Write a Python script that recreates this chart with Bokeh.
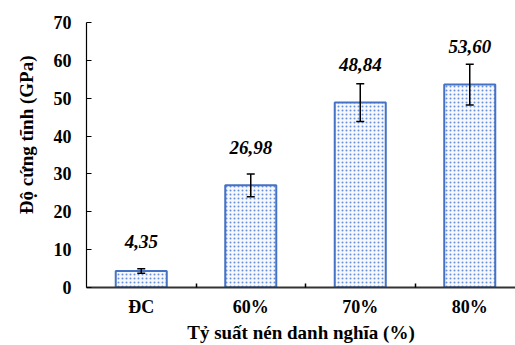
from bokeh.plotting import figure
from bokeh.models import ColumnDataSource, Whisker, TeeHead, FixedTicker, Range1d, Title
from bokeh.core.properties import value
from bokeh.embed import file_html
from bokeh.resources import INLINE

categories = ["ĐC", "60%", "70%", "80%"]
stiffness = [4.35, 26.98, 48.84, 53.60]
errors = [0.6, 3.0, 5.0, 5.4]
value_labels = ["4,35", "26,98", "48,84", "53,60"]
label_offsets = [-30, -38, -38, -38]
y_ticks = [0, 10, 20, 30, 40, 50, 60, 70]

xs = list(range(1, len(categories) + 1))
src = ColumnDataSource(dict(
    x=xs, top=stiffness,
    upper=[v + e for v, e in zip(stiffness, errors)],
    lower=[v - e for v, e in zip(stiffness, errors)],
    lab=value_labels, off=label_offsets,
))

FONT = "Liberation Serif"

p = figure(width=515, height=345, output_backend="svg", toolbar_location=None,
           x_range=Range1d(0.5, 0.5 + 429 / 109.5), y_range=Range1d(0, 70),
           min_border_left=86, min_border_right=0, min_border_top=22, min_border_bottom=58)
p.outline_line_color = None
p.xgrid.visible = False
p.ygrid.visible = False
p.background_fill_color = "white"
p.border_fill_color = "white"

p.vbar(x="x", top="top", width=0.466, source=src,
       fill_color="#f6f8fc", line_color="#4472C4", line_width=2,
       hatch_pattern="dot", hatch_color="#4f7fd6", hatch_scale=4,
       hatch_weight=1.4, hatch_alpha=0.85)

w = Whisker(base="x", upper="upper", lower="lower", source=src,
            line_color="black", line_width=1.5, level="overlay",
            upper_head=TeeHead(size=8, line_width=1.5, line_color="black"),
            lower_head=TeeHead(size=8, line_width=1.5, line_color="black"))
p.add_layout(w)

p.text(x="x", y="top", text="lab", y_offset="off", source=src,
       text_font=value(FONT), text_font_style="bold italic",
       text_font_size="19px", text_align="center", text_baseline="middle",
       text_color="black")

# x axis
p.xaxis.ticker = FixedTicker(ticks=xs, minor_ticks=[1.5, 2.5, 3.5])
p.xaxis.major_label_overrides = {i: c for i, c in zip(xs, categories)}
p.xaxis.major_tick_in = 0
p.xaxis.major_tick_out = 0
p.xaxis.minor_tick_in = 4
p.xaxis.minor_tick_out = 0
p.xaxis.minor_tick_line_color = "black"
p.xaxis.minor_tick_line_width = 1.5
p.xaxis.axis_line_color = "#333333"
p.xaxis.axis_line_width = 2
p.xaxis.major_label_text_font = FONT
p.xaxis.major_label_text_font_style = "bold"
p.xaxis.major_label_text_font_size = "18px"
p.xaxis.major_label_text_color = "black"
p.xaxis.major_label_text_line_height = 1.0
p.xaxis.major_label_standoff = 9
p.xaxis.axis_label = "Tỷ suất nén danh nghĩa (%)"
p.xaxis.axis_label_text_font = FONT
p.xaxis.axis_label_text_font_style = "bold"
p.xaxis.axis_label_text_font_size = "19px"
p.xaxis.axis_label_text_color = "black"
p.xaxis.axis_label_text_line_height = 1.0
p.xaxis.axis_label_standoff = 2

# y axis
p.yaxis.ticker = FixedTicker(ticks=y_ticks, minor_ticks=[])
p.yaxis.major_tick_in = 5
p.yaxis.major_tick_out = 0
p.yaxis.major_tick_line_color = "black"
p.yaxis.axis_line_color = "black"
p.yaxis.axis_line_width = 1.2
p.yaxis.major_label_text_font = FONT
p.yaxis.major_label_text_font_style = "bold"
p.yaxis.major_label_text_font_size = "18px"
p.yaxis.major_label_text_color = "black"
p.yaxis.major_label_standoff = 15

ytitle = Title(text="Độ cứng tĩnh (GPa)", align="right", offset=33, standoff=27,
               text_font=FONT, text_font_style="bold", text_font_size="19px",
               text_color="black")
p.add_layout(ytitle, "left")

open("out.html", "w").write(file_html(p, INLINE))
